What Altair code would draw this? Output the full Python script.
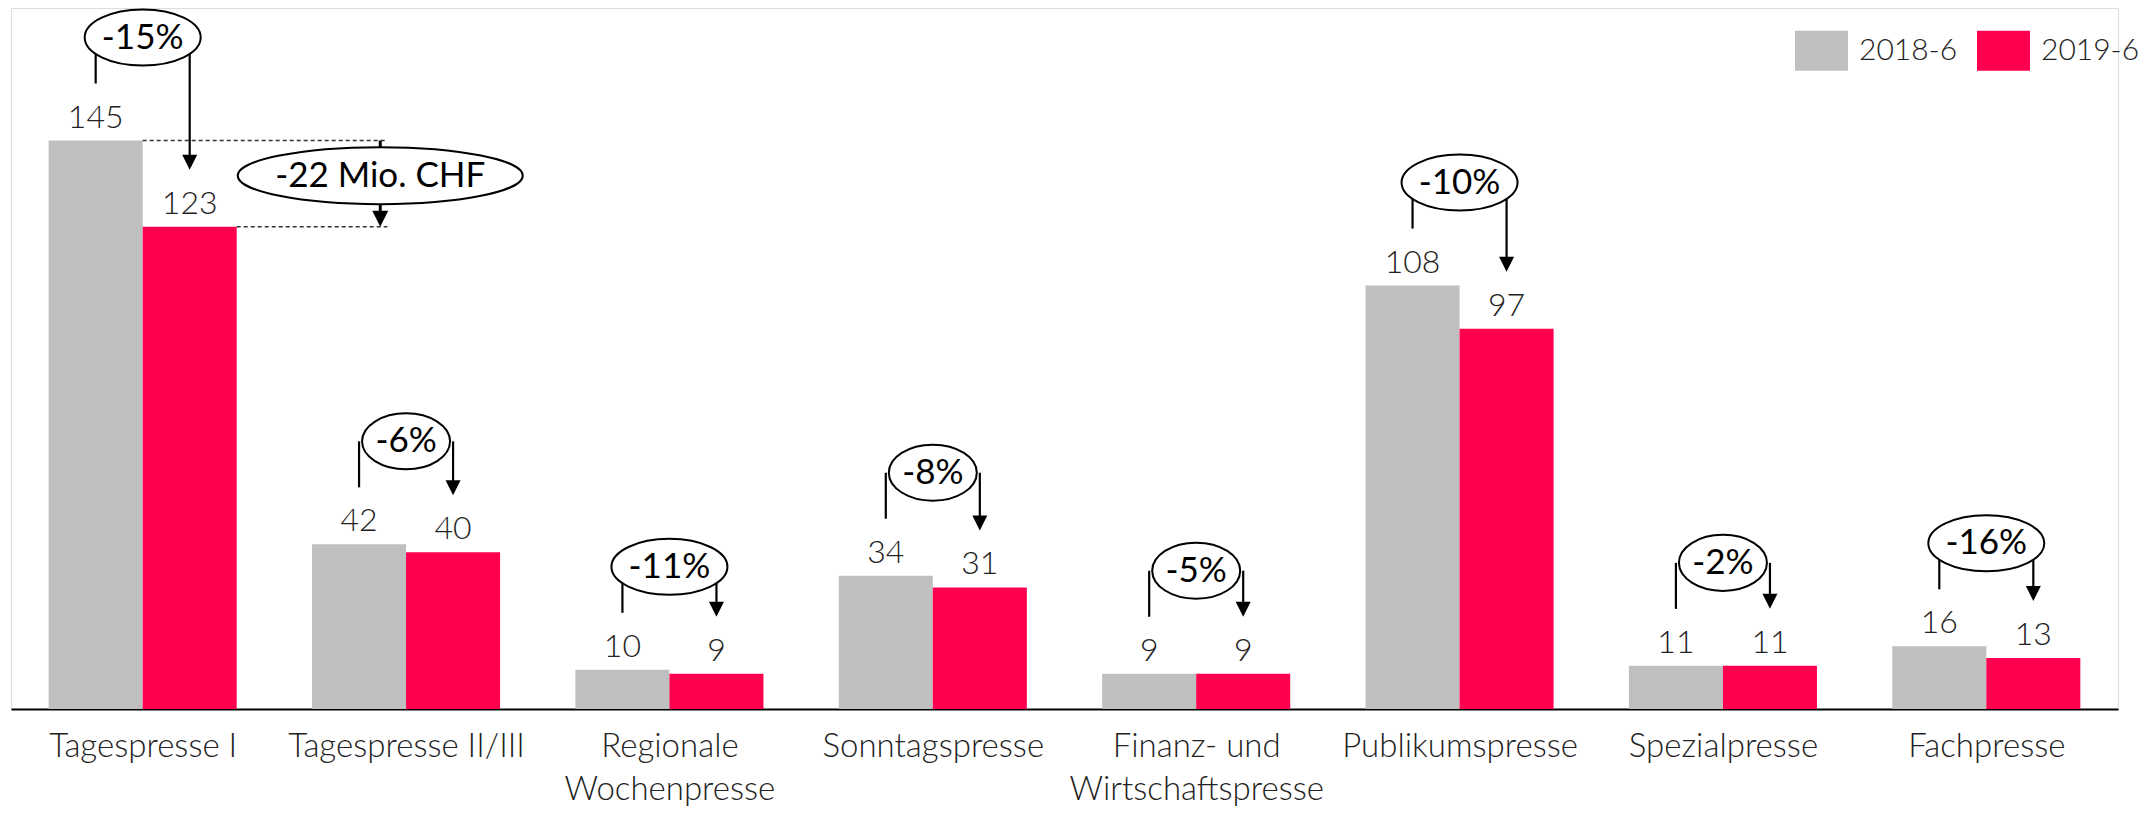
import json
import altair as alt
import pandas as pd

# ---------------- data ----------------
categories = ["Tagespresse I", "Tagespresse II/III", "Regionale\nWochenpresse",
              "Sonntagspresse", "Finanz- und\nWirtschaftspresse", "Publikumspresse",
              "Spezialpresse", "Fachpresse"]
series_names = ["2018-6", "2019-6"]
values_2018 = [145, 42, 10, 34, 9, 108, 11, 16]
values_2019 = [123, 40, 9, 31, 9, 97, 11, 13]
pct_labels = ["-15%", "-6%", "-11%", "-8%", "-5%", "-10%", "-2%", "-16%"]
total_label = "-22 Mio. CHF"
total_category = 0

# ---------------- styling ----------------
GRAY = "#BFBFBF"
RED = "#FF004F"
FONT = "Lato"
BW = 0.357           # bar width in category units
ELL_H = 56
LIFT = 103           # ellipse centre above the 2018 bar top (px)
GAP = 57             # bracket end above bar top (px)


def ellipse_path(w, h):
    k = h / w
    return f"M -1 0 A 1 {k:.4f} 0 1 0 1 0 A 1 {k:.4f} 0 1 0 -1 0 Z"


rows = []
for i, (a, b) in enumerate(zip(values_2018, values_2019)):
    rows.append({"i": i, "series": series_names[0], "value": a, "x0": i - BW, "x1": i, "xc": i - BW / 2})
    rows.append({"i": i, "series": series_names[1], "value": b, "x0": i, "x1": i + BW, "xc": i + BW / 2})
bars_df = pd.DataFrame(rows)

ann = []
for i, (a, b, p) in enumerate(zip(values_2018, values_2019, pct_labels)):
    w = 28 * len(p) + 4
    ann.append({"i": i, "g": a, "r": b, "pct": p, "xl": i - BW / 2, "xr": i + BW / 2,
                "eshape": ellipse_path(w, ELL_H), "esize": w * w})
ann_df = pd.DataFrame(ann)

t = total_category
tot_w, tot_h = 285, 57
tot_df = pd.DataFrame([{
    "g": values_2018[t], "r": values_2019[t],
    "mid": (values_2018[t] + values_2019[t]) / 2,
    "xg": t, "xr": t + BW, "xe": t + 0.929, "xa": t + 0.902,
    "txt": total_label,
    "eshape": ellipse_path(tot_w, tot_h), "esize": tot_w * tot_w,
}])

label_lines = [c.split("\n") for c in categories]

xs = alt.Scale(domain=[-0.5, len(categories) - 0.5], nice=False, zero=False)
ys = alt.Scale(domain=[0, 178.8], nice=False, zero=True)
xaxis = alt.Axis(values=list(range(len(categories))),
                 labelExpr=json.dumps(label_lines, ensure_ascii=False) + "[datum.value]",
                 domain=True, domainColor="#000000", domainWidth=2,
                 ticks=False, grid=False, title=None,
                 labelFont=FONT, labelFontSize=33, labelFontWeight=300, labelColor="#222222",
                 labelPadding=21, labelLineHeight=43, labelOverlap=False, labelLimit=0,
                 labelFlush=False, labelBound=False, labelAlign="center", labelBaseline="top")


def X(f):
    return alt.X(f, type="quantitative", scale=xs, axis=xaxis)


def Y(f):
    return alt.Y(f, type="quantitative", scale=ys, axis=None)


bars = alt.Chart(bars_df).mark_bar(strokeWidth=0).encode(
    x=X("x0"), x2="x1", y=Y("value"), y2=alt.datum(0),
    color=alt.Color("series:N",
                    scale=alt.Scale(domain=series_names, range=[GRAY, RED]),
                    legend=alt.Legend(orient="none", legendX=1784, legendY=16,
                                      direction="horizontal", title=None,
                                      symbolType="M -1 -0.755 L 1 -0.755 L 1 0.755 L -1 0.755 Z",
                                      symbolSize=2809, symbolStrokeWidth=0, symbolOpacity=1,
                                      labelFont=FONT, labelFontSize=30, labelFontWeight=300,
                                      labelColor="#222222", labelOffset=11, columnPadding=19,
                                      labelLimit=0, padding=0)),
)

values_text = alt.Chart(bars_df).mark_text(
    dy=-13, baseline="alphabetic", font=FONT, fontSize=32, fontWeight=300, color="#222222"
).encode(x=X("xc"), y=Y("value"), text=alt.Text("value:Q", format="d"))

left_rules = alt.Chart(ann_df).mark_rule(
    color="black", strokeWidth=2.2, yOffset=-LIFT, y2Offset=-GAP
).encode(x=X("xl"), y=Y("g"), y2="g")

right_rules = alt.Chart(ann_df).mark_rule(
    color="black", strokeWidth=2.2, yOffset=-LIFT, y2Offset=-GAP - 13
).encode(x=X("xr"), y=Y("g"), y2="r")

arrow_heads = alt.Chart(ann_df).mark_point(
    shape="M -1 -1 L 1 -1 L 0 1 Z", size=225, filled=True, color="black",
    opacity=1, strokeWidth=0, yOffset=-GAP - 7.5
).encode(x=X("xr"), y=Y("r"))

ellipses = alt.Chart(ann_df).mark_point(
    filled=True, fill="white", stroke="black", strokeWidth=2, opacity=1, yOffset=-LIFT
).encode(x=X("i"), y=Y("g"),
         shape=alt.Shape("eshape:N", scale=None),
         size=alt.Size("esize:Q", scale=None))

pct_text = alt.Chart(ann_df).mark_text(
    dy=-LIFT, baseline="middle", font=FONT, fontSize=35, fontWeight=400, color="black"
).encode(x=X("i"), y=Y("g"), text="pct:N")

dash_top = alt.Chart(tot_df).mark_rule(
    color="#333333", strokeWidth=1.5, strokeDash=[4, 3]
).encode(x=X("xg"), x2="xe", y=Y("g"))

dash_bot = alt.Chart(tot_df).mark_rule(
    color="#333333", strokeWidth=1.5, strokeDash=[4, 3]
).encode(x=X("xr"), x2="xe", y=Y("r"))

tot_rule = alt.Chart(tot_df).mark_rule(
    color="black", strokeWidth=3, y2Offset=-14
).encode(x=X("xa"), y=Y("g"), y2="r")

tot_head = alt.Chart(tot_df).mark_point(
    shape="M -1 -1 L 1 -1 L 0 1 Z", size=256, filled=True, color="black",
    opacity=1, strokeWidth=0, yOffset=-8
).encode(x=X("xa"), y=Y("r"))

tot_ellipse = alt.Chart(tot_df).mark_point(
    filled=True, fill="white", stroke="black", strokeWidth=2, opacity=1, yOffset=-8
).encode(x=X("xa"), y=Y("mid"),
         shape=alt.Shape("eshape:N", scale=None),
         size=alt.Size("esize:Q", scale=None))

tot_text = alt.Chart(tot_df).mark_text(
    dy=-8, baseline="middle", font=FONT, fontSize=35, fontWeight=400, color="black"
).encode(x=X("xa"), y=Y("mid"), text="txt:N")

chart = alt.layer(
    bars, values_text, dash_top, dash_bot, tot_rule, tot_head, tot_ellipse, tot_text,
    left_rules, right_rules, arrow_heads, ellipses, pct_text
).properties(
    width=2107, height=701,
    padding={"left": 3, "top": 0, "right": 26, "bottom": 100},
    autosize=alt.AutoSizeParams(type="none"),
).configure_view(stroke=None, strokeWidth=0).configure(font=FONT)

chart.save("out.html", embed_options={"renderer": "svg", "actions": False})
